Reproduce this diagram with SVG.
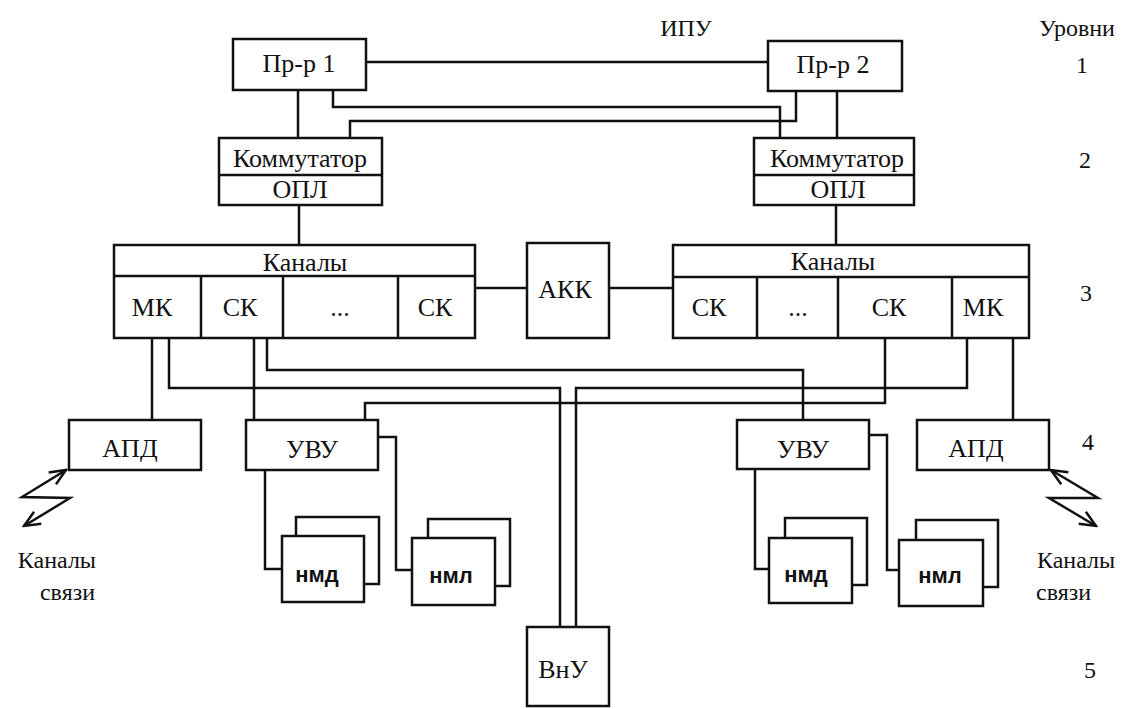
<svg xmlns="http://www.w3.org/2000/svg" width="1126" height="709" viewBox="0 0 1126 709">
<style>
rect,.b{fill:#fff;stroke:#111;stroke-width:2.5}
rect.bg{stroke:none}
.c path,.c line,.c polyline{fill:none;stroke:#111;stroke-width:2.5}
text{font-family:"Liberation Serif","Times New Roman",serif;font-size:26px;fill:#111;text-anchor:middle}
.s{font-size:24px}
.m{font-family:"Liberation Sans",Arial,sans-serif;font-size:22px;font-weight:bold}
.l{text-anchor:start}
.r{text-anchor:end}
</style>
<defs>
<marker id="ar" viewBox="0 0 20 20" refX="18" refY="10" markerWidth="20" markerHeight="20" markerUnits="userSpaceOnUse" orient="auto-start-reverse">
<path d="M2,3 L18,10 L2,17" fill="none" stroke="#111" stroke-width="2.5"/>
</marker>
</defs>
<rect class="bg" width="1126" height="709"/>
<g class="c" id="connectors">
<line x1="366" y1="62" x2="768" y2="62"/>
<line x1="298" y1="90" x2="298" y2="138"/>
<path d="M333,90 V107 H780 V138"/>
<path d="M350,138 V121 H796 V91"/>
<line x1="837" y1="91" x2="837" y2="138"/>
<line x1="299" y1="205" x2="299" y2="245"/>
<line x1="836" y1="205" x2="836" y2="245"/>
<line x1="475" y1="288" x2="527" y2="288"/>
<line x1="609" y1="288" x2="673" y2="288"/>
<line x1="152" y1="338" x2="152" y2="420"/>
<path d="M169,338 V388 H560 V627"/>
<line x1="254" y1="338" x2="254" y2="420"/>
<path d="M267,338 V370 H803 V420"/>
<path d="M885,338 V403 H365 V420"/>
<path d="M967,338 V388 H576 V627"/>
<line x1="1013" y1="338" x2="1013" y2="420"/>
<path d="M265,470 V569 H282"/>
<path d="M378,437 H396 V570 H412"/>
<path d="M755,470 V569 H769"/>
<path d="M869,435 H887 V570 H899"/>
<polyline points="66,470 22,497 70,498 24,526" marker-start="url(#ar)" marker-end="url(#ar)"/>
<polyline points="1051,470 1098,498 1049,498 1096,526" marker-start="url(#ar)" marker-end="url(#ar)"/>
</g>
<g id="pr1"><rect x="233" y="39" width="133" height="51"/><text x="299" y="72">Пр-р 1</text></g>
<g id="pr2"><rect x="768" y="41" width="134" height="50"/><text x="833" y="73">Пр-р 2</text></g>
<g id="kom1"><rect x="219" y="138" width="163" height="67"/><line class="b" x1="219" y1="175" x2="382" y2="175"/><text x="300" y="167">Коммутатор</text><text x="300" y="198">ОПЛ</text></g>
<g id="kom2"><rect x="754" y="138" width="160" height="67"/><line class="b" x1="754" y1="175" x2="914" y2="175"/><text x="837" y="167">Коммутатор</text><text x="838" y="198">ОПЛ</text></g>
<g id="kan1"><rect x="114" y="245" width="361" height="93"/>
<line class="b" x1="114" y1="276" x2="475" y2="276"/>
<line class="b" x1="201" y1="276" x2="201" y2="338"/>
<line class="b" x1="283" y1="276" x2="283" y2="338"/>
<line class="b" x1="398" y1="276" x2="398" y2="338"/>
<text x="305" y="271">Каналы</text>
<text x="152" y="316">МК</text><text x="240" y="316">СК</text><text x="340" y="316">...</text><text x="435" y="316">СК</text></g>
<g id="akk"><rect x="527" y="243" width="82" height="95"/><text x="565" y="298">АКК</text></g>
<g id="kan2"><rect x="673" y="245" width="356" height="93"/>
<line class="b" x1="673" y1="277" x2="1029" y2="277"/>
<line class="b" x1="757" y1="277" x2="757" y2="338"/>
<line class="b" x1="838" y1="277" x2="838" y2="338"/>
<line class="b" x1="952" y1="277" x2="952" y2="338"/>
<text x="833" y="270">Каналы</text>
<text x="709" y="316">СК</text><text x="798" y="316">...</text><text x="889" y="316">СК</text><text x="983" y="316">МК</text></g>
<g id="apd1"><rect x="69" y="420" width="132" height="50"/><text x="130" y="457">АПД</text></g>
<g id="uvu1"><rect x="246" y="420" width="132" height="50"/><text x="312" y="458">УВУ</text></g>
<g id="uvu2"><rect x="737" y="420" width="132" height="49"/><text x="803" y="458">УВУ</text></g>
<g id="apd2"><rect x="917" y="420" width="132" height="50"/><text x="976" y="457">АПД</text></g>
<g id="nmd1"><rect x="296" y="517" width="83" height="67"/><rect x="282" y="536" width="82" height="66"/><text class="m" x="317" y="582">нмд</text></g>
<g id="nml1"><rect x="428" y="519" width="82" height="67"/><rect x="412" y="538" width="83" height="67"/><text class="m" x="451" y="583">нмл</text></g>
<g id="nmd2"><rect x="785" y="518" width="82" height="67"/><rect x="769" y="538" width="83" height="65"/><text class="m" x="806" y="582">нмд</text></g>
<g id="nml2"><rect x="916" y="520" width="82" height="67"/><rect x="899" y="540" width="84" height="66"/><text class="m" x="940" y="583">нмл</text></g>
<g id="vnu"><rect x="527" y="627" width="82" height="79"/><text x="563" y="678">ВнУ</text></g>
<g id="labels">
<text class="s" x="686" y="36">ИПУ</text>
<text class="s" x="1077" y="36">Уровни</text>
<text class="s" x="1082" y="73">1</text>
<text class="s" x="1085" y="168">2</text>
<text class="s" x="1086" y="301">3</text>
<text class="s" x="1088" y="450">4</text>
<text class="s" x="1090" y="678">5</text>
<text class="s r" x="96" y="568">Каналы</text>
<text class="s r" x="95" y="600">связи</text>
<text class="s l" x="1037" y="568">Каналы</text>
<text class="s l" x="1036" y="600">связи</text>
</g>
</svg>
